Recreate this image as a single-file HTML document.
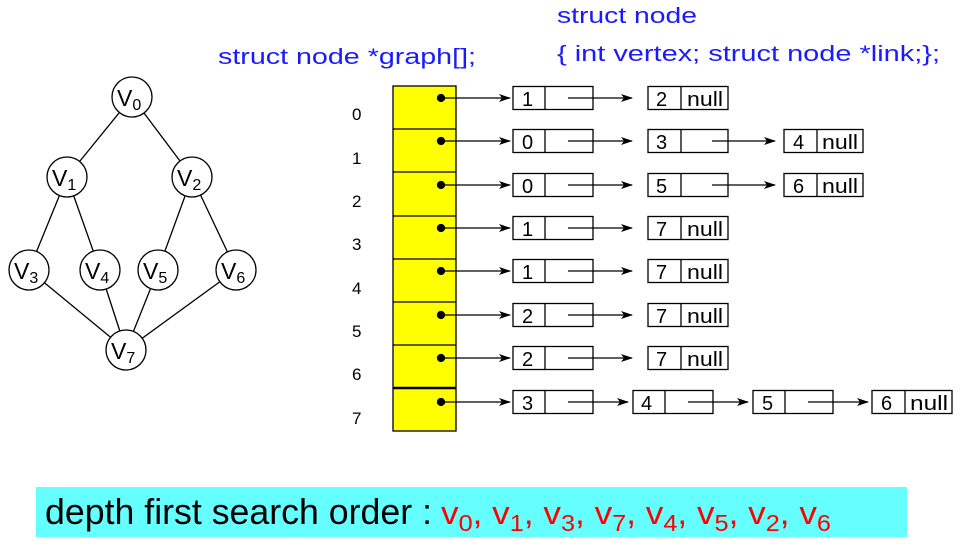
<!DOCTYPE html>
<html><head><meta charset="utf-8"><style>
html,body{margin:0;padding:0;background:#fff;}
svg{display:block;font-family:"Liberation Sans",sans-serif;}
</style></head><body>
<svg width="973" height="552" viewBox="0 0 973 552" xmlns="http://www.w3.org/2000/svg">
<defs>
<marker id="ah" markerWidth="12" markerHeight="8" refX="11" refY="4" orient="auto" markerUnits="userSpaceOnUse">
<path d="M0,0 L12,4 L0,8 L3,4 z" fill="#000"/>
</marker>
</defs>
<g fill="#1a1aff" font-size="22">
<text x="218" y="64" textLength="258" lengthAdjust="spacingAndGlyphs">struct node *graph[];</text>
<text x="557" y="23" textLength="140" lengthAdjust="spacingAndGlyphs">struct node</text>
<text x="557" y="61" textLength="383" lengthAdjust="spacingAndGlyphs">{ int vertex; struct node *link;};</text>
</g>
<g stroke="#000" stroke-width="1.3">
<line x1="132" y1="97" x2="67" y2="177"/>
<line x1="132" y1="97" x2="192" y2="177"/>
<line x1="67" y1="177" x2="29" y2="270"/>
<line x1="67" y1="177" x2="100" y2="270"/>
<line x1="192" y1="177" x2="158" y2="270"/>
<line x1="192" y1="177" x2="236" y2="270"/>
<line x1="29" y1="270" x2="126" y2="350"/>
<line x1="100" y1="270" x2="126" y2="350"/>
<line x1="158" y1="270" x2="126" y2="350"/>
<line x1="236" y1="270" x2="126" y2="350"/>
</g>
<g fill="#fff" stroke="#000" stroke-width="1.3">
<circle cx="132" cy="97" r="20"/><circle cx="67" cy="177" r="20"/><circle cx="192" cy="177" r="20"/>
<circle cx="29" cy="270" r="20"/><circle cx="100" cy="270" r="20"/><circle cx="158" cy="270" r="20"/>
<circle cx="236" cy="270" r="20"/><circle cx="126" cy="350" r="20"/>
</g>
<g font-size="23" fill="#000">
<text x="117" y="106">V<tspan font-size="16" dy="4">0</tspan></text>
<text x="52" y="186">V<tspan font-size="16" dy="4">1</tspan></text>
<text x="177" y="186">V<tspan font-size="16" dy="4">2</tspan></text>
<text x="14" y="279">V<tspan font-size="16" dy="4">3</tspan></text>
<text x="85" y="279">V<tspan font-size="16" dy="4">4</tspan></text>
<text x="143" y="279">V<tspan font-size="16" dy="4">5</tspan></text>
<text x="221" y="279">V<tspan font-size="16" dy="4">6</tspan></text>
<text x="111" y="359">V<tspan font-size="16" dy="4">7</tspan></text>
</g>
<rect x="393" y="86" width="63" height="345" fill="#ffff00" stroke="#000" stroke-width="1.3"/>
<g stroke="#000" stroke-width="1.3">
<line x1="393" y1="129" x2="456" y2="129"/><line x1="393" y1="172" x2="456" y2="172"/>
<line x1="393" y1="216" x2="456" y2="216"/><line x1="393" y1="259" x2="456" y2="259"/>
<line x1="393" y1="302" x2="456" y2="302"/><line x1="393" y1="345" x2="456" y2="345"/>
<line x1="393" y1="388" x2="456" y2="388" stroke-width="2.5"/>
</g>
<g font-size="17" fill="#000">
<text x="352" y="120">0</text><text x="352" y="164">1</text><text x="352" y="207">2</text>
<text x="352" y="250">3</text><text x="352" y="294">4</text><text x="352" y="337">5</text>
<text x="352" y="380">6</text><text x="352" y="424">7</text>
</g>
<g stroke="#000" stroke-width="1.3">
<g fill="#000">
<circle cx="441" cy="98" r="3.5"/><circle cx="441" cy="141" r="3.5"/><circle cx="441" cy="185" r="3.5"/>
<circle cx="441" cy="228" r="3.5"/><circle cx="441" cy="271" r="3.5"/><circle cx="441" cy="315" r="3.5"/>
<circle cx="441" cy="358" r="3.5"/><circle cx="441" cy="402" r="3.5"/>
</g>
<line x1="441" y1="98" x2="510" y2="98" marker-end="url(#ah)"/>
<line x1="441" y1="141" x2="510" y2="141" marker-end="url(#ah)"/>
<line x1="441" y1="185" x2="510" y2="185" marker-end="url(#ah)"/>
<line x1="441" y1="228" x2="510" y2="228" marker-end="url(#ah)"/>
<line x1="441" y1="271" x2="510" y2="271" marker-end="url(#ah)"/>
<line x1="441" y1="315" x2="510" y2="315" marker-end="url(#ah)"/>
<line x1="441" y1="358" x2="510" y2="358" marker-end="url(#ah)"/>
<line x1="441" y1="402" x2="510" y2="402" marker-end="url(#ah)"/>
<line x1="568" y1="98" x2="632" y2="98" marker-end="url(#ah)"/>
<line x1="568" y1="141" x2="632" y2="141" marker-end="url(#ah)"/>
<line x1="712" y1="141" x2="775" y2="141" marker-end="url(#ah)"/>
<line x1="568" y1="185" x2="632" y2="185" marker-end="url(#ah)"/>
<line x1="712" y1="185" x2="775" y2="185" marker-end="url(#ah)"/>
<line x1="568" y1="228" x2="632" y2="228" marker-end="url(#ah)"/>
<line x1="568" y1="271" x2="632" y2="271" marker-end="url(#ah)"/>
<line x1="568" y1="315" x2="632" y2="315" marker-end="url(#ah)"/>
<line x1="568" y1="358" x2="632" y2="358" marker-end="url(#ah)"/>
<line x1="568" y1="402" x2="628" y2="402" marker-end="url(#ah)"/>
<line x1="688" y1="402" x2="748" y2="402" marker-end="url(#ah)"/>
<line x1="808" y1="402" x2="868" y2="402" marker-end="url(#ah)"/>
</g>
<g fill="none" stroke="#000" stroke-width="1.3">
<rect x="513" y="86.5" width="80" height="23"/><line x1="545" y1="86.5" x2="545" y2="109.5"/>
<rect x="648" y="86.5" width="80" height="23"/><line x1="681" y1="86.5" x2="681" y2="109.5"/>
<rect x="513" y="129.5" width="80" height="23"/><line x1="545" y1="129.5" x2="545" y2="152.5"/>
<rect x="648" y="129.5" width="80" height="23"/><line x1="681" y1="129.5" x2="681" y2="152.5"/>
<rect x="784" y="129.5" width="79" height="23"/><line x1="817" y1="129.5" x2="817" y2="152.5"/>
<rect x="513" y="173.5" width="80" height="23"/><line x1="545" y1="173.5" x2="545" y2="196.5"/>
<rect x="648" y="173.5" width="80" height="23"/><line x1="681" y1="173.5" x2="681" y2="196.5"/>
<rect x="784" y="173.5" width="79" height="23"/><line x1="817" y1="173.5" x2="817" y2="196.5"/>
<rect x="513" y="216.5" width="80" height="23"/><line x1="545" y1="216.5" x2="545" y2="239.5"/>
<rect x="648" y="216.5" width="80" height="23"/><line x1="681" y1="216.5" x2="681" y2="239.5"/>
<rect x="513" y="259.5" width="80" height="23"/><line x1="545" y1="259.5" x2="545" y2="282.5"/>
<rect x="648" y="259.5" width="80" height="23"/><line x1="681" y1="259.5" x2="681" y2="282.5"/>
<rect x="513" y="303.5" width="80" height="23"/><line x1="545" y1="303.5" x2="545" y2="326.5"/>
<rect x="648" y="303.5" width="80" height="23"/><line x1="681" y1="303.5" x2="681" y2="326.5"/>
<rect x="513" y="346.5" width="80" height="23"/><line x1="545" y1="346.5" x2="545" y2="369.5"/>
<rect x="648" y="346.5" width="80" height="23"/><line x1="681" y1="346.5" x2="681" y2="369.5"/>
<rect x="513" y="390.5" width="80" height="23"/><line x1="545" y1="390.5" x2="545" y2="413.5"/>
<rect x="633" y="390.5" width="80" height="23"/><line x1="665" y1="390.5" x2="665" y2="413.5"/>
<rect x="753" y="390.5" width="80" height="23"/><line x1="785" y1="390.5" x2="785" y2="413.5"/>
<rect x="872" y="390.5" width="80" height="23"/><line x1="905" y1="390.5" x2="905" y2="413.5"/>
</g>
<g font-size="20" fill="#000">
<text x="522" y="106">1</text><text x="656" y="106">2</text><text x="687" y="106" textLength="36" lengthAdjust="spacingAndGlyphs">null</text>
<text x="522" y="149">0</text><text x="656" y="149">3</text><text x="793" y="149">4</text><text x="822" y="149" textLength="36" lengthAdjust="spacingAndGlyphs">null</text>
<text x="522" y="193">0</text><text x="656" y="193">5</text><text x="793" y="193">6</text><text x="822" y="193" textLength="36" lengthAdjust="spacingAndGlyphs">null</text>
<text x="522" y="236">1</text><text x="656" y="236">7</text><text x="687" y="236" textLength="36" lengthAdjust="spacingAndGlyphs">null</text>
<text x="522" y="279">1</text><text x="656" y="279">7</text><text x="687" y="279" textLength="36" lengthAdjust="spacingAndGlyphs">null</text>
<text x="522" y="323">2</text><text x="656" y="323">7</text><text x="687" y="323" textLength="36" lengthAdjust="spacingAndGlyphs">null</text>
<text x="522" y="366">2</text><text x="656" y="366">7</text><text x="687" y="366" textLength="36" lengthAdjust="spacingAndGlyphs">null</text>
<text x="522" y="410">3</text><text x="641" y="410">4</text><text x="762" y="410">5</text><text x="881" y="410">6</text><text x="910" y="410" textLength="38" lengthAdjust="spacingAndGlyphs">null</text>
</g>
<rect x="36" y="487" width="871" height="50" fill="#66ffff"/>
<text x="45" y="524" font-size="36" fill="#000" textLength="387" lengthAdjust="spacingAndGlyphs">depth first search order :</text>
<text x="441" y="524" font-size="32" fill="#ff0000" textLength="390" lengthAdjust="spacingAndGlyphs">v<tspan font-size="23" dy="7">0</tspan><tspan dy="-7">, v</tspan><tspan font-size="23" dy="7">1</tspan><tspan dy="-7">, v</tspan><tspan font-size="23" dy="7">3</tspan><tspan dy="-7">, v</tspan><tspan font-size="23" dy="7">7</tspan><tspan dy="-7">, v</tspan><tspan font-size="23" dy="7">4</tspan><tspan dy="-7">, v</tspan><tspan font-size="23" dy="7">5</tspan><tspan dy="-7">, v</tspan><tspan font-size="23" dy="7">2</tspan><tspan dy="-7">, v</tspan><tspan font-size="23" dy="7">6</tspan></text>
</svg>
</body></html>
